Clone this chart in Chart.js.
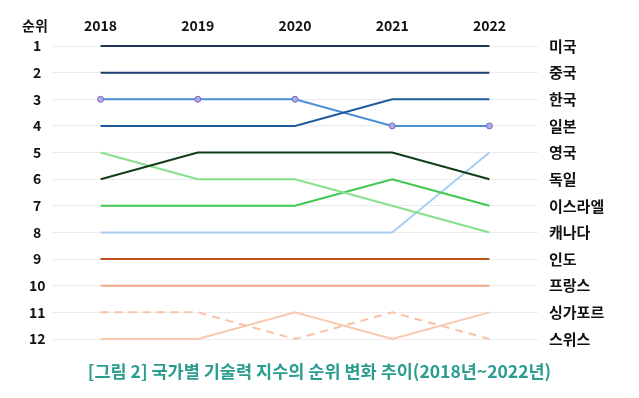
<!DOCTYPE html>
<html><head><meta charset="utf-8">
<script src="https://cdn.jsdelivr.net/npm/chart.js@4"></script>
<style>html,body{margin:0;padding:0;background:#fff}#wrap{width:639px;height:398px}</style>
</head><body><div id="wrap"><canvas id="c"></canvas></div>
<script>
const years = ['2018','2019','2020','2021','2022'];
const rankNames = ['미국','중국','한국','일본','영국','독일','이스라엘','캐나다','인도','프랑스','싱가포르','스위스'];
const s1 = [1,1,1,1,1];
const s2 = [2,2,2,2,2];
const s3 = [4,4,4,3,3];
const s4 = [3,3,3,4,4];
const s5 = [6,5,5,5,6];
const s6 = [5,6,6,7,8];
const s7 = [7,7,7,6,7];
const s8 = [8,8,8,8,5];
const s9 = [9,9,9,9,9];
const s10 = [10,10,10,10,10];
const s11 = [11,11,12,11,12];
const s12 = [12,12,11,12,11];
const titleText = '[그림 2] 국가별 기술력 지수의 순위 변화 추이(2018년~2022년)';

const FONT = '"Noto Sans CJK KR", "Noto Sans", sans-serif';
function ds(data, color, extra){
  return Object.assign({data, borderColor: color, backgroundColor: color, borderWidth: 2,
    pointRadius: 0, tension: 0, clip: false, yAxisID: 'y'}, extra||{});
}
const datasets = [
  ds(s1,'#1c3557'),
  ds(s2,'#1a3f6f'),
  ds(s3,'#1f5b9c'),
  ds(s4,'#4b8fd8',{pointRadius:3, pointBackgroundColor:'#b3abe3', pointBorderColor:'#7468bf', pointBorderWidth:1}),
  ds(s5,'#0f3d17'),
  ds(s6,'#86e08c'),
  ds(s7,'#3fc74f'),
  ds(s8,'#a9cdf0'),
  ds(s9,'#c0521d'),
  ds(s10,'#f0a584'),
  ds(s11,'#f7c2a6',{borderDash:[8,6]}),
  ds(s12,'#f9c9ae')
];

const cornerLabel = {
  id:'cornerLabel',
  afterDraw(chart){
    const ctx = chart.ctx;
    ctx.save();
    ctx.font = 'bold 14px ' + FONT;
    ctx.fillStyle = '#111';
    ctx.textAlign = 'center';
    ctx.textBaseline = 'middle';
    ctx.fillText('순위', 35, 26);
    ctx.restore();
  }
};

new Chart(document.getElementById('c'), {
  type:'line',
  data:{labels: years, datasets},
  plugins:[cornerLabel],
  options:{
    responsive:true, maintainAspectRatio:false, animation:false,
    layout:{padding:{top:6, left:0, right:0, bottom:0}},
    plugins:{
      legend:{display:false}, tooltip:{enabled:false},
      title:{display:true, text:titleText, position:'bottom', color:'#2a9d8f',
        font:{family:FONT, size:17.5, weight:'bold'}, padding:{top:21.5, bottom:16.5}}
    },
    scales:{
      x:{type:'category', position:'top', offset:true,
        grid:{display:false, drawTicks:false}, border:{display:false},
        ticks:{padding:11.6, color:'#111', font:{family:FONT, size:14, weight:'bold'}}},
      y:{type:'linear', position:'left', reverse:true, min:1, max:12,
        grid:{color:'#ebebeb', lineWidth:1, drawTicks:false}, border:{display:false},
        ticks:{stepSize:1, padding:6.5, crossAlign:'center', color:'#111', font:{family:FONT, size:14, weight:'bold'}},
        afterFit(s){ s.width = 52; }},
      y2:{type:'linear', position:'right', reverse:true, min:1, max:12,
        grid:{display:false, drawTicks:false}, border:{display:false},
        ticks:{stepSize:1, padding:11, color:'#111', font:{family:FONT, size:15, weight:'bold'},
          callback:(v)=> rankNames[v-1]},
        afterFit(s){ s.width = 101; }}
    }
  }
});
</script></body></html>
